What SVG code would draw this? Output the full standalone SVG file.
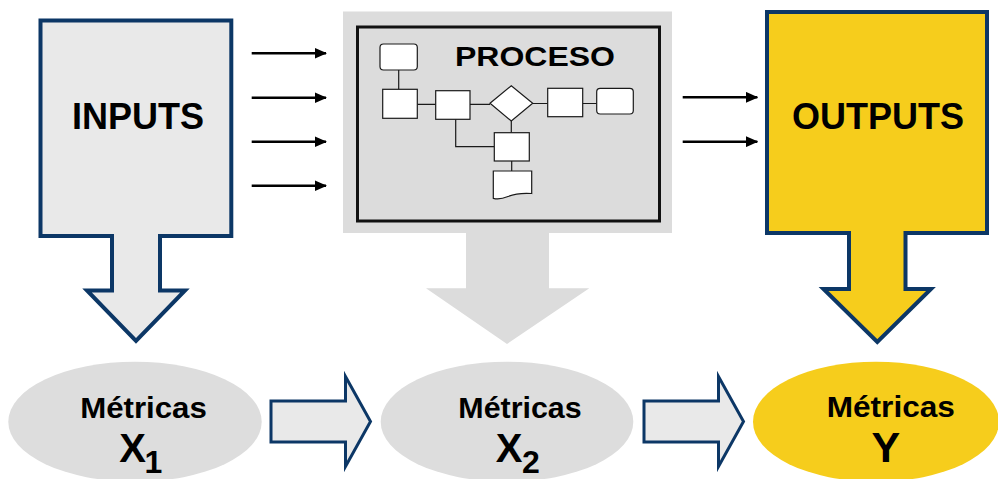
<svg xmlns="http://www.w3.org/2000/svg" width="998" height="479" viewBox="0 0 998 479">
  <defs>
    <marker id="arrowhead" markerWidth="5" markerHeight="4.4" refX="4.6" refY="2.2" orient="auto" markerUnits="strokeWidth">
      <path d="M0,0 L5,2.2 L0,4.4 Z" fill="#000"/>
    </marker>
  </defs>
  <style>
    .lbl { font-family: "Liberation Sans", Arial, sans-serif; font-weight: bold; fill: #000; text-anchor: middle; }
    .navy { stroke: #0c3766; stroke-width: 4; stroke-linejoin: miter; }
    .flow { fill: #fff; stroke: #1a1a1a; stroke-width: 1.2; }
    .flowline { fill: none; stroke: #1a1a1a; stroke-width: 1.2; }
    .feed { stroke: #000; stroke-width: 2.5; marker-end: url(#arrowhead); }
    .blk { fill: #e9e9e9; stroke: #0c3766; stroke-width: 3; }
  </style>

  <!-- INPUTS block with downward arrow -->
  <g id="inputs">
    <path class="navy" fill="#e9e9e9" d="M40.5,20.5 H231.3 V236 H160 V290.5 H185 L136,341 L87,290.5 H112 V236 H40.5 Z"/>
    <text class="lbl" x="138" y="129" font-size="36">INPUTS</text>
  </g>

  <!-- PROCESO panel with flowchart -->
  <g id="proceso">
    <rect x="343" y="11.5" width="329" height="221.5" fill="#dcdcdc"/>
    <rect x="357.5" y="27" width="302" height="194" fill="#dcdcdc" stroke="#111" stroke-width="3"/>
    <text class="lbl" x="535" y="66" font-size="27" textLength="160" lengthAdjust="spacingAndGlyphs">PROCESO</text>
    <!-- connector lines of the flowchart -->
    <path class="flowline" d="M398.7,70 V89.3 M417.3,104.3 H435.7 M470,104.3 H490 M532.7,103.5 H547.7 M582.7,103.5 H596.7 M511.3,121 V132.7 M455.7,119.3 V146.7 H494.3 M511.7,161 V171"/>
    <!-- flowchart shapes -->
    <rect class="flow" x="380" y="44" width="37.3" height="26" rx="3.5"/>
    <rect class="flow" x="382.7" y="89.3" width="34.6" height="29"/>
    <rect class="flow" x="435.7" y="90.7" width="34.3" height="28.6"/>
    <path class="flow" d="M490,103.3 L511.3,85.7 L532.7,103.3 L511.3,121 Z"/>
    <rect class="flow" x="547.7" y="88.3" width="35" height="28.4"/>
    <rect class="flow" x="596.7" y="88.3" width="36.6" height="25.7" rx="3.5"/>
    <rect class="flow" x="494.3" y="132.7" width="35" height="28.3"/>
    <path class="flow" d="M493.3,171 H531.7 V193.5 Q518,192.5 508,196.5 Q499.5,200 493.3,198.3 Z"/>
  </g>

  <!-- gray arrow below PROCESO -->
  <g id="proceso-arrow">
    <path fill="#dcdcdc" d="M466,233 H549 V288.3 H589.3 L507,344 L426,288.3 H466 Z"/>
  </g>

  <!-- OUTPUTS block with downward arrow -->
  <g id="outputs">
    <path class="navy" fill="#f6cd1c" d="M767,12 H987 V233 H905.5 V289 H931 L877.3,342 L823.5,289 H849 V233 H767 Z"/>
    <text class="lbl" x="878" y="129.3" font-size="36">OUTPUTS</text>
  </g>

  <!-- metric ellipses -->
  <g id="metricas-x1">
    <ellipse cx="135" cy="421.7" rx="126.7" ry="60" fill="#dddddd"/>
    <text class="lbl" x="143.5" y="417.7" font-size="30" textLength="126.7" lengthAdjust="spacingAndGlyphs">Métricas</text>
    <text class="lbl" x="132.5" y="461.7" font-size="40">X</text>
    <text class="lbl" x="153.3" y="472.7" font-size="32">1</text>
  </g>
  <g id="metricas-x2">
    <ellipse cx="507" cy="421.7" rx="126.3" ry="60" fill="#dddddd"/>
    <text class="lbl" x="520" y="417.7" font-size="30" textLength="123.4" lengthAdjust="spacingAndGlyphs">Métricas</text>
    <text class="lbl" x="509.2" y="461.7" font-size="40">X</text>
    <text class="lbl" x="530.8" y="473.3" font-size="32">2</text>
  </g>
  <g id="metricas-y">
    <ellipse cx="876" cy="421.7" rx="123" ry="60" fill="#f6cd1c"/>
    <text class="lbl" x="890.8" y="416.7" font-size="30" textLength="128.3" lengthAdjust="spacingAndGlyphs">Métricas</text>
    <text class="lbl" x="885.8" y="461.7" font-size="43">Y</text>
  </g>

  <!-- connectors: feed arrows and block arrows between metrics -->
  <g id="connectors">
    <line class="feed" x1="251.7" y1="53.3" x2="326" y2="53.3"/>
    <line class="feed" x1="251.7" y1="97.7" x2="326" y2="97.7"/>
    <line class="feed" x1="251.7" y1="141.7" x2="326" y2="141.7"/>
    <line class="feed" x1="251.7" y1="185.7" x2="326" y2="185.7"/>
    <line class="feed" x1="682.7" y1="97.3" x2="757.3" y2="97.3"/>
    <line class="feed" x1="682.7" y1="141.7" x2="757.3" y2="141.7"/>
    <path class="blk" d="M271,401 H345.5 V376.5 L370.5,421.5 L345.5,466.5 V442 H271 Z"/>
    <path class="blk" d="M644,401 H718.5 V376.5 L743.5,421.5 L718.5,466.5 V442 H644 Z"/>
  </g>
</svg>
